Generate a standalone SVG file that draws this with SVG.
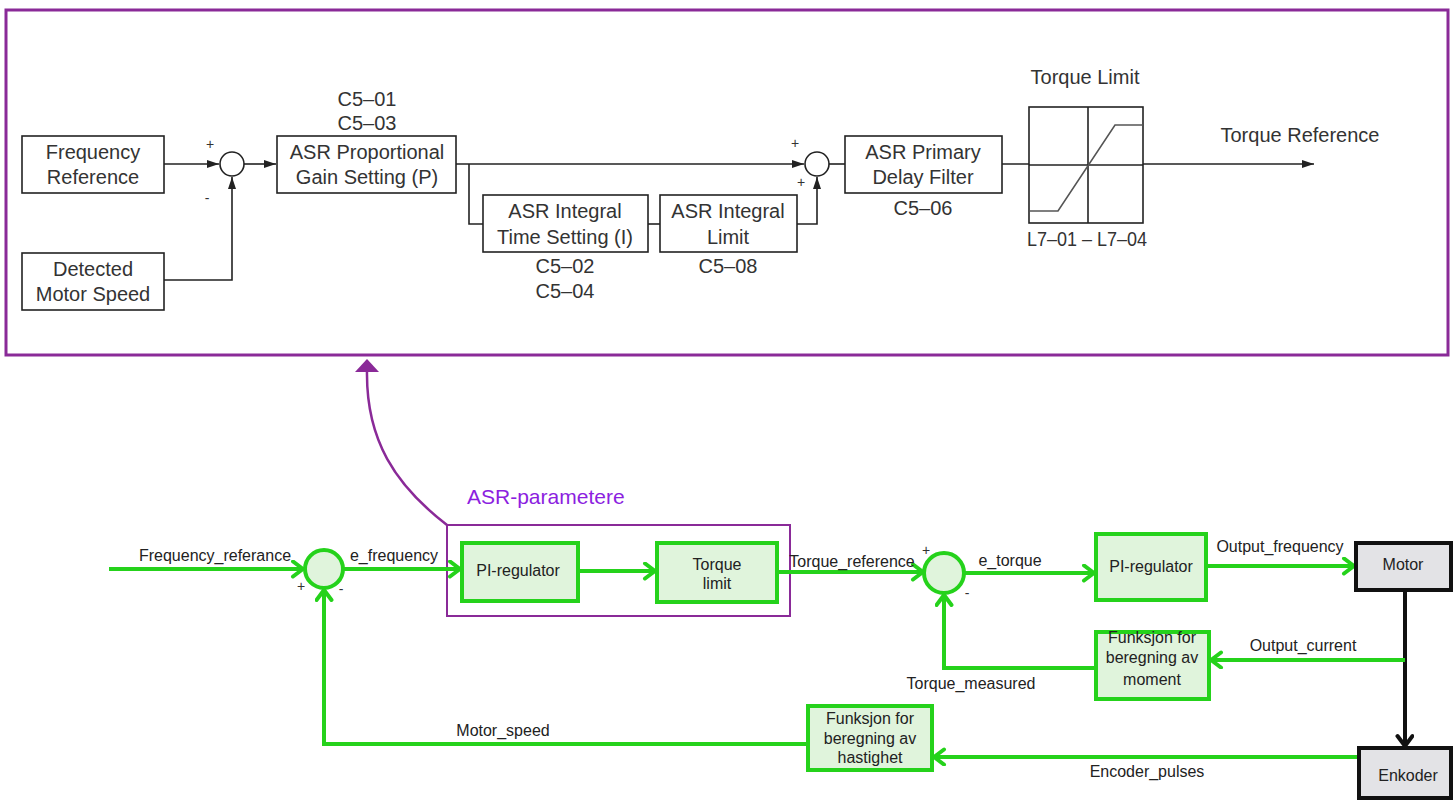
<svg xmlns="http://www.w3.org/2000/svg" width="1453" height="800" viewBox="0 0 1453 800">
<defs>
<style>
.t{font-family:"Liberation Sans",Arial,sans-serif;font-size:20px;fill:#333;text-anchor:middle}
.ts{font-family:"Liberation Sans",Arial,sans-serif;font-size:14px;fill:#333;text-anchor:middle}
.l{font-family:"Liberation Sans",Arial,sans-serif;font-size:16px;fill:#222;text-anchor:middle}
.bx{fill:#fff;stroke:#222;stroke-width:1.6}
.bl{fill:none;stroke:#222;stroke-width:1.6}
.gb{fill:#e0f4dc;stroke:#25d21b;stroke-width:4}
.gl{fill:none;stroke:#25d21b;stroke-width:4}
.mb{fill:#e3e3e6;stroke:#111;stroke-width:4}
</style>
<marker id="bA" markerUnits="userSpaceOnUse" markerWidth="14" markerHeight="10" refX="12" refY="4" orient="auto"><path d="M0,0 L12,4 L0,8 z" fill="#222"/></marker>
<marker id="gA" markerUnits="userSpaceOnUse" markerWidth="20" markerHeight="20" refX="13" refY="9" orient="auto"><path d="M3,1.5 L13,9 L3,16.5" fill="none" stroke="#25d21b" stroke-width="4" stroke-linecap="round" stroke-linejoin="round"/></marker>
<marker id="kA" markerUnits="userSpaceOnUse" markerWidth="20" markerHeight="20" refX="13" refY="9" orient="auto"><path d="M3,1.5 L13,9 L3,16.5" fill="none" stroke="#111" stroke-width="4" stroke-linecap="round" stroke-linejoin="round"/></marker>
</defs>
<rect width="1453" height="800" fill="#fff"/>

<!-- top panel -->
<rect id="asr-panel" x="6" y="10" width="1442" height="345" fill="none" stroke="#8a2a98" stroke-width="3"/>

<g id="top-connectors">
<path class="bl" d="M164,164 H219" marker-end="url(#bA)"/>
<path class="bl" d="M164,280 H232 V177" marker-end="url(#bA)"/>
<path class="bl" d="M244,164 H276" marker-end="url(#bA)"/>
<path class="bl" d="M456,164 H804" marker-end="url(#bA)"/>
<path class="bl" d="M469,164 V224 H483"/>
<path class="bl" d="M648,224 H660"/>
<path class="bl" d="M797,224 H817 V177" marker-end="url(#bA)"/>
<path class="bl" d="M829,164 H845"/>
<path class="bl" d="M1002,164 H1314" marker-end="url(#bA)"/>
</g>

<g id="freq-ref"><rect class="bx" x="22" y="136" width="142" height="57"/><text class="t" x="93" y="159">Frequency</text><text class="t" x="93" y="184">Reference</text></g>
<g id="detected-speed"><rect class="bx" x="22" y="253" width="142" height="57"/><text class="t" x="93" y="276">Detected</text><text class="t" x="93" y="301">Motor Speed</text></g>
<g id="sum1"><circle cx="232" cy="164" r="12" fill="#fff" stroke="#222" stroke-width="1.6"/><text class="ts" x="210" y="149">+</text><text class="ts" x="207" y="203">-</text></g>
<g id="asr-p"><text class="t" x="367" y="106">C5–01</text><text class="t" x="367" y="130">C5–03</text><rect class="bx" x="277" y="136" width="179" height="57"/><text class="t" x="367" y="159">ASR Proportional</text><text class="t" x="367" y="184">Gain Setting (P)</text></g>
<g id="asr-i"><rect class="bx" x="483" y="195" width="165" height="57"/><text class="t" x="565" y="218">ASR Integral</text><text class="t" x="565" y="244">Time Setting (I)</text><text class="t" x="565" y="273">C5–02</text><text class="t" x="565" y="298">C5–04</text></g>
<g id="asr-il"><rect class="bx" x="660" y="195" width="137" height="57"/><text class="t" x="728" y="218">ASR Integral</text><text class="t" x="728" y="244">Limit</text><text class="t" x="728" y="273">C5–08</text></g>
<g id="sum2"><circle cx="817" cy="164" r="12" fill="#fff" stroke="#222" stroke-width="1.6"/><text class="ts" x="795" y="148">+</text><text class="ts" x="801" y="187">+</text></g>
<g id="asr-filter"><rect class="bx" x="845" y="136" width="157" height="57"/><text class="t" x="923" y="159">ASR Primary</text><text class="t" x="923" y="184">Delay Filter</text><text class="t" x="923" y="215">C5–06</text></g>
<g id="torque-limit-top"><text class="t" x="1085" y="84">Torque Limit</text><rect class="bx" x="1029" y="107" width="114" height="116" fill="none"/><path class="bl" d="M1088,107 V223"/><path class="bl" d="M1029,165 H1143"/><path d="M1030,211 H1058 L1115,125 H1143" fill="none" stroke="#555" stroke-width="1.6"/><text class="t" x="1087" y="246" textLength="120" lengthAdjust="spacingAndGlyphs">L7–01 – L7–04</text></g>
<g id="torque-ref-label"><text class="t" x="1300" y="142">Torque Reference</text></g>

<!-- link between panels -->
<g id="asr-link">
<path d="M447,525 C395,485 366,440 367,371" fill="none" stroke="#8a2a98" stroke-width="2.5"/>
<path d="M367,359 L379,372 L355,372 z" fill="#8a2a98"/>
<text x="467" y="504" font-family="'Liberation Sans',Arial,sans-serif" font-size="21" fill="#8c1ee0">ASR-parametere</text>
<rect x="447" y="525" width="343" height="91" fill="none" stroke="#8a2a98" stroke-width="2"/>
</g>

<!-- lower connectors -->
<g id="connectors">
<path class="gl" d="M109,569 H303" marker-end="url(#gA)"/>
<path class="gl" d="M343,569 H460" marker-end="url(#gA)"/>
<path class="gl" d="M580,571 H655" marker-end="url(#gA)"/>
<path class="gl" d="M779,572 H923" marker-end="url(#gA)"/>
<path class="gl" d="M964,573 H1094" marker-end="url(#gA)"/>
<path class="gl" d="M1208,566 H1354" marker-end="url(#gA)"/>
<path d="M1405,591 V746" fill="none" stroke="#111" stroke-width="4" marker-end="url(#kA)"/>
<path class="gl" d="M1405,660 H1211" marker-end="url(#gA)"/>
<path class="gl" d="M1094,668 H944 V595" marker-end="url(#gA)"/>
<path class="gl" d="M1357,757 H934" marker-end="url(#gA)"/>
<path class="gl" d="M806,744 H324 V590" marker-end="url(#gA)"/>
<text class="l" x="215" y="561">Frequency_referance</text>
<text class="l" x="394" y="561">e_frequency</text>
<text class="l" x="852" y="567">Torque_reference</text>
<text class="l" x="1010" y="566">e_torque</text>
<text class="l" x="1280" y="552">Output_frequency</text>
<text class="l" x="1303" y="651">Output_current</text>
<text class="l" x="971" y="689">Torque_measured</text>
<text class="l" x="503" y="736">Motor_speed</text>
<text class="l" x="1147" y="777">Encoder_pulses</text>
</g>

<g id="sum-freq"><circle cx="324" cy="569" r="19" fill="#e0f4dc" stroke="#25d21b" stroke-width="4"/><text class="ts" x="301" y="591">+</text><text class="ts" x="341" y="594">-</text></g>
<g id="pi-1"><rect class="gb" x="462" y="543" width="116" height="58"/><text class="l" x="518" y="576">PI-regulator</text></g>
<g id="torque-limit"><rect class="gb" x="657" y="543" width="120" height="59"/><text class="l" x="717" y="570">Torque</text><text class="l" x="717" y="589">limit</text></g>
<g id="sum-torque"><circle cx="944" cy="573" r="20" fill="#e0f4dc" stroke="#25d21b" stroke-width="4"/><text class="ts" x="926" y="555">+</text><text class="ts" x="967" y="598">-</text></g>
<g id="pi-2"><rect class="gb" x="1096" y="534" width="110" height="66"/><text class="l" x="1151" y="572">PI-regulator</text></g>
<g id="motor"><rect class="mb" x="1356" y="543" width="95" height="47"/><text class="l" x="1403" y="570">Motor</text></g>
<g id="enkoder"><rect class="mb" x="1359" y="748" width="92" height="50"/><text class="l" x="1408" y="781">Enkoder</text></g>
<g id="moment-fn"><rect class="gb" x="1096" y="632" width="113" height="67"/><text class="l" x="1152" y="643">Funksjon for</text><text class="l" x="1152" y="663">beregning av</text><text class="l" x="1152" y="685">moment</text></g>
<g id="speed-fn"><rect class="gb" x="808" y="706" width="124" height="64"/><text class="l" x="870" y="724">Funksjon for</text><text class="l" x="870" y="744">beregning av</text><text class="l" x="870" y="763">hastighet</text></g>
</svg>
